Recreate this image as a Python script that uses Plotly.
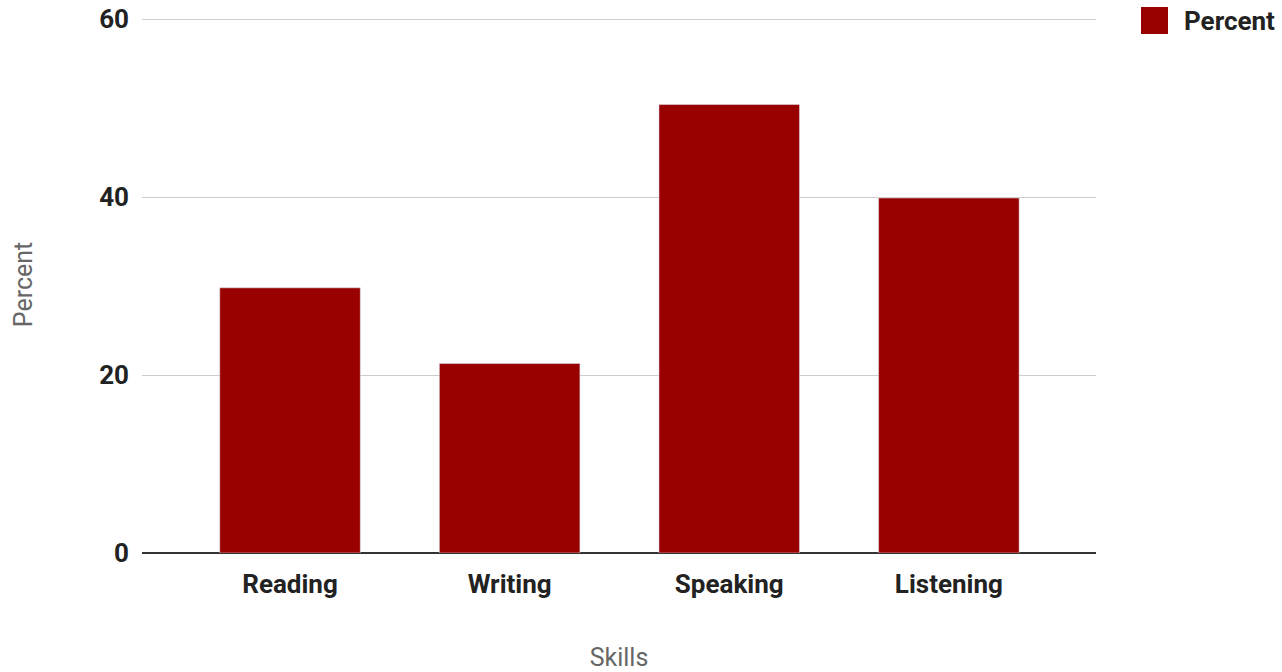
import plotly.graph_objects as go

skills = ["Reading", "Writing", "Speaking", "Listening"]
percent = [29.8, 21.3, 50.4, 39.9]
y_ticks = [0, 20, 40, 60]

BAR = "#990000"

fig = go.Figure()
fig.add_trace(go.Bar(x=skills, y=percent, name="Percent", marker_color=BAR,
                     width=0.64, showlegend=False))

fig.update_layout(
    width=1282, height=672,
    margin=dict(l=142, r=186, t=16, b=119),
    plot_bgcolor="white", paper_bgcolor="white",
    font=dict(family="Roboto", color="#222"),
    xaxis=dict(
        range=[-0.674, 3.67],
        automargin=False,
        tickfont=dict(family="Roboto", size=26, color="#222", weight="bold"),
        ticklabelstandoff=13,
        showgrid=False,
        title=dict(text="Skills", font=dict(family="Roboto", size=25, color="#666"), standoff=52),
        fixedrange=True,
    ),
    yaxis=dict(
        range=[0, 60.35], tickvals=y_ticks,
        automargin=False,
        tickfont=dict(family="Roboto", size=26, color="#222", weight="bold"),
        ticklabelstandoff=12,
        gridcolor="#cccccc", gridwidth=1,
        zeroline=True, zerolinecolor="#333333", zerolinewidth=1.5,
        title=dict(text="Percent", font=dict(family="Roboto", size=25, color="#666"), standoff=59),
        fixedrange=True,
    ),
)

# legend drawn as shape + text
fig.add_shape(type="rect", xref="paper", yref="paper",
              x0=(1141 - 142) / 537 * 0 + (1141 - 142) / 954, x1=(1168 - 142) / 954,
              y0=(553 - 34) / 537, y1=(553 - 7) / 537,
              fillcolor=BAR, line=dict(width=0))
fig.add_annotation(xref="paper", yref="paper", x=(1182 - 142) / 954, y=(553 - 21) / 537,
                   text="<b>Percent</b>", showarrow=False, xanchor="left", yanchor="middle",
                   font=dict(family="Roboto", size=26, color="#222"))

fig.write_html("out.html")
